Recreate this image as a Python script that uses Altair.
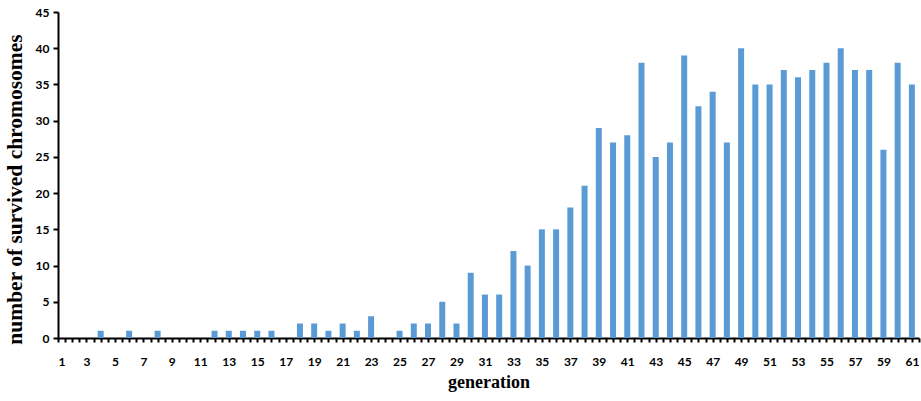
import altair as alt
import pandas as pd

generation = list(range(1, 62))
survived = [0, 0, 0, 1, 0, 1, 0, 1, 0, 0,
            0, 1, 1, 1, 1, 1, 0, 2, 2, 1,
            2, 1, 3, 0, 1, 2, 2, 5, 2, 9,
            6, 6, 12, 10, 15, 15, 18, 21, 29, 27,
            28, 38, 25, 27, 39, 32, 34, 27, 40, 35,
            35, 37, 36, 37, 38, 40, 37, 37, 26, 38,
            35]
x_tick_values = [1 + 0.5 * i for i in range(122)]
y_tick_values = [0, 5, 10, 15, 20, 25, 30, 35, 40, 45]

df = pd.DataFrame({"generation": generation, "survived": survived})

chart = alt.Chart(df).mark_bar(color="#5B9BD5", size=6).encode(
    x=alt.X("generation:Q",
            scale=alt.Scale(domain=[1, 61.5], nice=False, zero=False, padding=0),
            axis=alt.Axis(title="generation", values=x_tick_values,
                          labelExpr="(datum.value % 2 == 1) ? datum.value : ''",
                          labelOverlap=False, grid=False, tickSize=4,
                          labelPadding=14, titlePadding=6, titleFontSize=18)),
    y=alt.Y("survived:Q",
            scale=alt.Scale(domain=[0, 45], nice=False),
            axis=alt.Axis(title="number of survived chromosomes", values=y_tick_values,
                          grid=False, tickSize=5, labelPadding=4, titlePadding=9,
                          titleFontSize=21.5, titleY=177)),
).properties(
    width=861, height=326,
    autosize=alt.AutoSizeParams(type="none"),
    padding={"left": 58, "top": 12, "right": 2, "bottom": 63},
).configure_view(stroke=None).configure_axis(
    domainColor="black", domainWidth=2, tickColor="black", tickWidth=2,
    labelFont="Lato", labelFontWeight="bold", labelFontSize=12, labelColor="black",
    titleFont="Liberation Serif", titleFontWeight="bold", titleColor="black",
)

chart.save("out.html", embed_options={"renderer": "svg", "actions": False})
